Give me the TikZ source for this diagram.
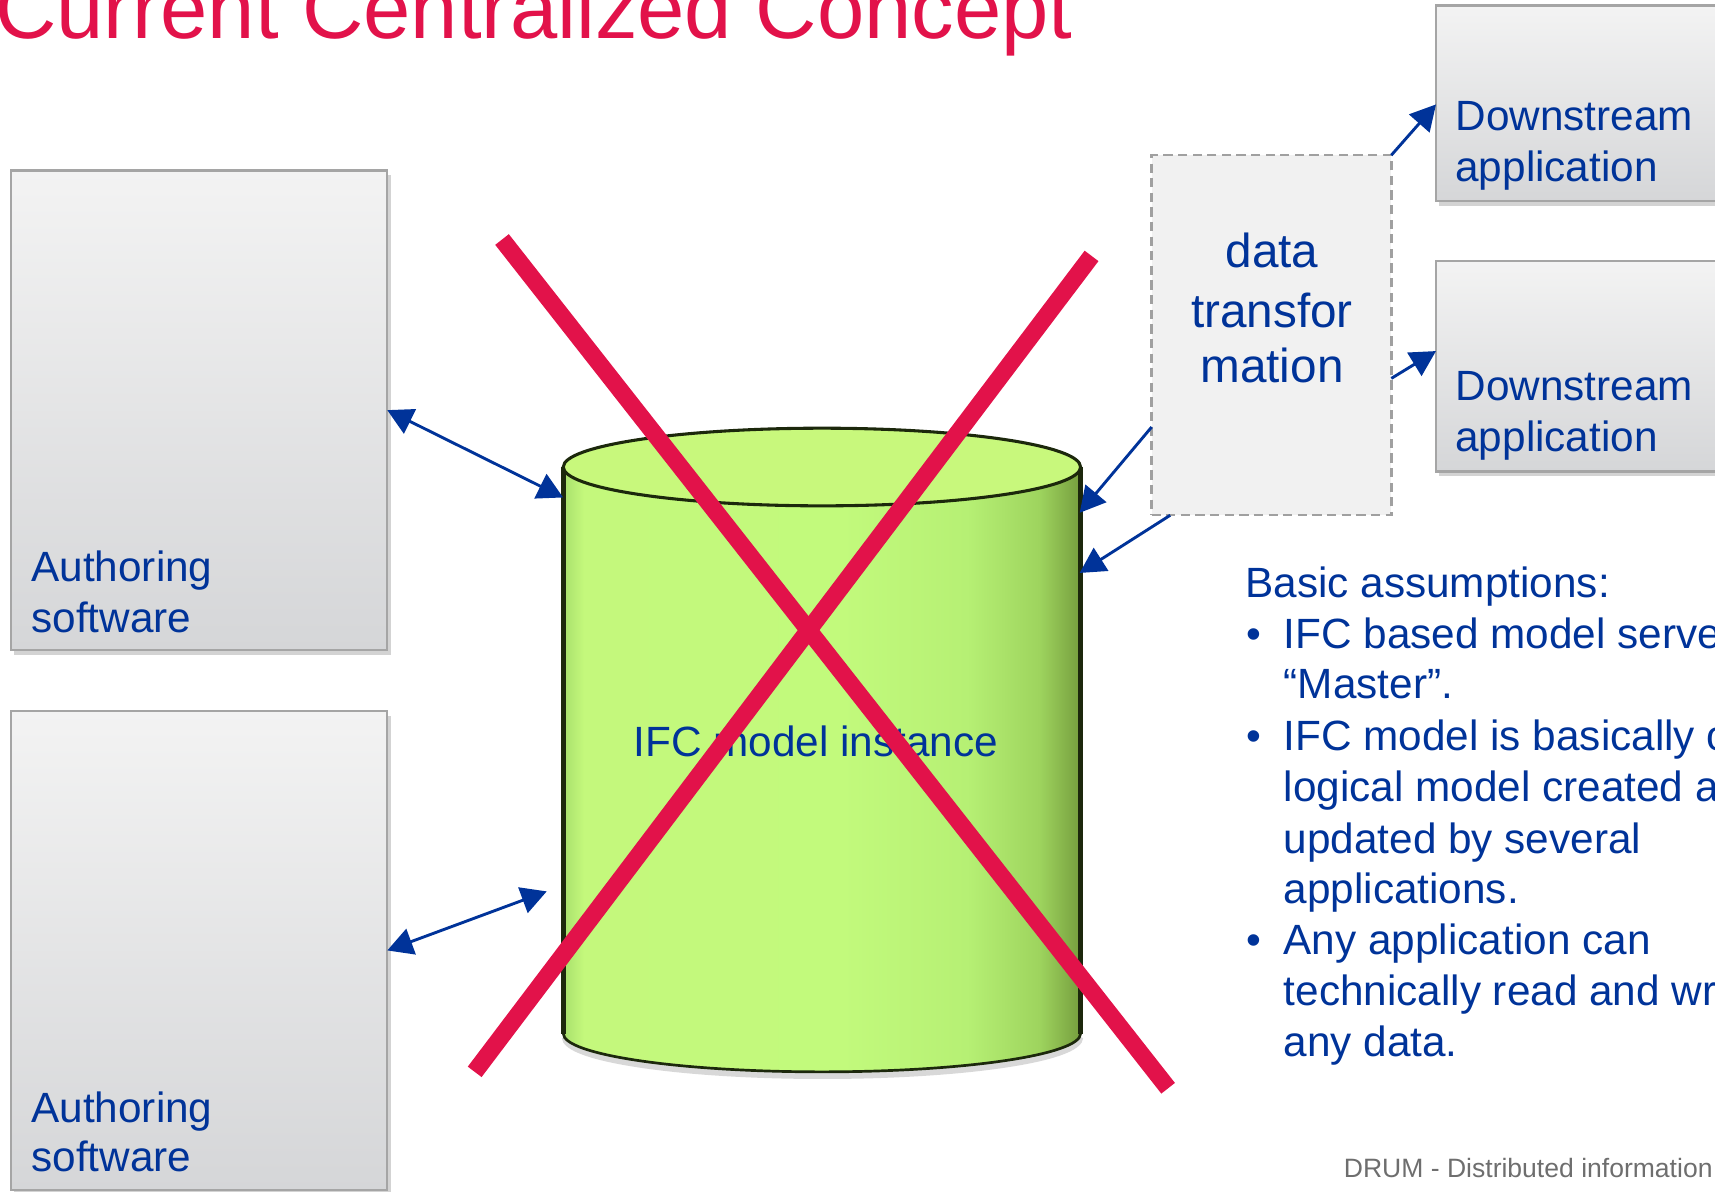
\documentclass[tikz,border=0pt]{standalone}
\usepackage{fontspec}
\setmainfont{Liberation Sans}
\usetikzlibrary{arrows.meta,shadows,calc}
\definecolor{navy}{RGB}{0,51,153}
\definecolor{xred}{RGB}{226,18,74}
\definecolor{boxtop}{RGB}{243,243,243}
\definecolor{boxbot}{RGB}{213,214,216}
\definecolor{boxline}{RGB}{165,165,165}
\definecolor{dtfill}{RGB}{241,241,241}
\definecolor{dtline}{RGB}{160,160,160}
\definecolor{cyledge}{RGB}{28,40,12}
\definecolor{footgray}{RGB}{110,110,110}
\definecolor{topfill}{RGB}{200,248,124}
\definecolor{cA}{RGB}{168,224,108}
\definecolor{cB}{RGB}{196,248,124}
\definecolor{cC}{RGB}{194,250,124}
\definecolor{cD}{RGB}{182,240,116}
\definecolor{cE}{RGB}{158,212,94}
\definecolor{cF}{RGB}{118,158,62}
\pgfdeclarehorizontalshading{cylbody}{100bp}{color(0bp)=(cA); color(25bp)=(cA); color(27bp)=(cB); color(52bp)=(cC); color(64bp)=(cD); color(71bp)=(cE); color(75bp)=(cF); color(100bp)=(cF)}
\tikzset{
 swbox/.style={draw=boxline, line width=0.6pt, top color=boxtop, bottom color=boxbot,
   drop shadow={shadow xshift=0.9pt, shadow yshift=-1.3pt, opacity=0.35}, inner sep=0pt, outer sep=0pt},
 dtbox/.style={draw=dtline, line width=0.65pt, dash pattern=on 2.4pt off 1.4pt, fill=dtfill, inner sep=0pt, outer sep=0pt},
 lbl/.style={text=navy, font=\fontsize{11}{13}\selectfont, inner sep=0pt, anchor=base west},
 dtlbl/.style={text=navy, font=\fontsize{12.4}{15}\selectfont, inner sep=0pt, anchor=base},
 bul/.style={text=navy, font=\fontsize{11}{13}\selectfont, inner sep=0pt, anchor=base},
 conn/.style={navy, line width=0.75pt, -{Triangle[length=6.6pt, width=7pt]}},
 biconn/.style={navy, line width=0.75pt, {Triangle[length=6.6pt, width=7pt]}-{Triangle[length=6.6pt, width=7pt]}},
 cross/.style={xred, line width=4.5pt},
}
\begin{document}
\begin{tikzpicture}[x=0.01cm, y=-0.01cm]
\useasboundingbox (0,0) rectangle (1568,1089);
\clip (0,0) rectangle (1568,1089);

% title
\node[anchor=base west, inner sep=0pt, text=xred, font=\fontsize{22.1}{26}\selectfont] (title) at (-5,35) {Current Centralized Concept};

% boxes
\node[swbox, minimum width=3.44cm, minimum height=4.38cm] (auth1) at (182,375) {};
\node[swbox, minimum width=3.44cm, minimum height=4.38cm] (auth2) at (182,869) {};
\node[swbox, minimum width=2.87cm, minimum height=1.79cm] (ds1) at (1456.5,94.5) {};
\node[swbox, minimum width=2.87cm, minimum height=1.92cm] (ds2) at (1456.5,335) {};

% cylinder
\draw[gray!60, line width=2pt, opacity=0.5] (517,948) arc[start angle=180, end angle=0, x radius=235, y radius=35];
\shade[shading=cylbody] (515,427) -- (515,945) arc[start angle=180, end angle=0, x radius=236.5, y radius=35] -- (988,427) -- cycle;
\draw[cyledge, line width=0.7pt] (515,945) arc[start angle=180, end angle=0, x radius=236.5, y radius=35];
\draw[cyledge, line width=1.3pt] (515,427) -- (515,945) (988,427) -- (988,945);
\fill[topfill] (751.5,427) ellipse [x radius=236.5, y radius=35.5];
\draw[cyledge, line width=0.8pt] (751.5,427) ellipse [x radius=236.5, y radius=35.5];
\node[inner sep=0pt, outer sep=0pt, minimum width=4.73cm, minimum height=5.18cm] (cyl) at (751.5,686) {};
\node[lbl, anchor=base] (cyllbl) at (746,692) {IFC model instance};

% data transformation
\node[dtbox, minimum width=2.19cm, minimum height=3.29cm] (dt) at (1162.5,306.5) {};
\draw[conn] ($(dt.north west)!0.755!(dt.south west)$) -- ($(cyl.north east)+(-1,42)$);
\draw[conn] ($(dt.south west)+(17,0)$) -- ($(cyl.north east)+(-1,97)$);
\draw[conn] (dt.north east) -- ($(ds1.west)+(0,1)$);
\draw[conn] ($(dt.north east)!0.62!(dt.south east)$) -- ($(ds2.west)+(0,-14)$);
\node[dtlbl] (dtt1) at (1163,245) {data};
\node[dtlbl] (dtt2) at (1163,299) {transfor};
\node[dtlbl] (dtt3) at (1163,350) {mation};

% authoring connectors
\draw[biconn] (auth1.east) -- ($(cyl.north west)+(0,28)$);
\draw[biconn] (auth2.east) -- ($(cyl.west)+(-15,129)$);

% box labels
\node[lbl] (a1t1) at (28,532) {Authoring};
\node[lbl] (a1t2) at (28,578) {software};
\node[lbl] (a2t1) at (28,1026) {Authoring};
\node[lbl] (a2t2) at (28,1071) {software};
\node[lbl] (d1t1) at (1330,119) {Downstream};
\node[lbl] (d1t2) at (1330,166) {application};
\node[lbl] (d2t1) at (1330,366) {Downstream};
\node[lbl] (d2t2) at (1330,413) {application};

% assumptions
\node[lbl] (ba) at (1138,546) {Basic assumptions:};
\node[bul] (b1) at (1146,593) {•};
\node[bul] (b2) at (1146,686) {•};
\node[bul] (b3) at (1146,873) {•};
\node[lbl] (l1) at (1173,593) {IFC based model serves as};
\node[lbl] (l2) at (1173,639) {“Master”.};
\node[lbl] (l3) at (1173,686) {IFC model is basically one};
\node[lbl] (l4) at (1173,733) {logical model created and};
\node[lbl] (l5) at (1173,780) {updated by several};
\node[lbl] (l6) at (1173,826) {applications.};
\node[lbl] (l7) at (1173,873) {Any application can};
\node[lbl] (l8) at (1173,919) {technically read and write};
\node[lbl] (l9) at (1173,966) {any data.};

% footer
\node[anchor=base west, inner sep=0pt, text=footgray, font=\fontsize{6.9}{8}\selectfont] (footer) at (1228,1077) {DRUM - Distributed information};

% red cross
\draw[cross] (459,219) -- (1068,995);
\draw[cross] (998,234) -- (434,980);
\end{tikzpicture}
\end{document}
